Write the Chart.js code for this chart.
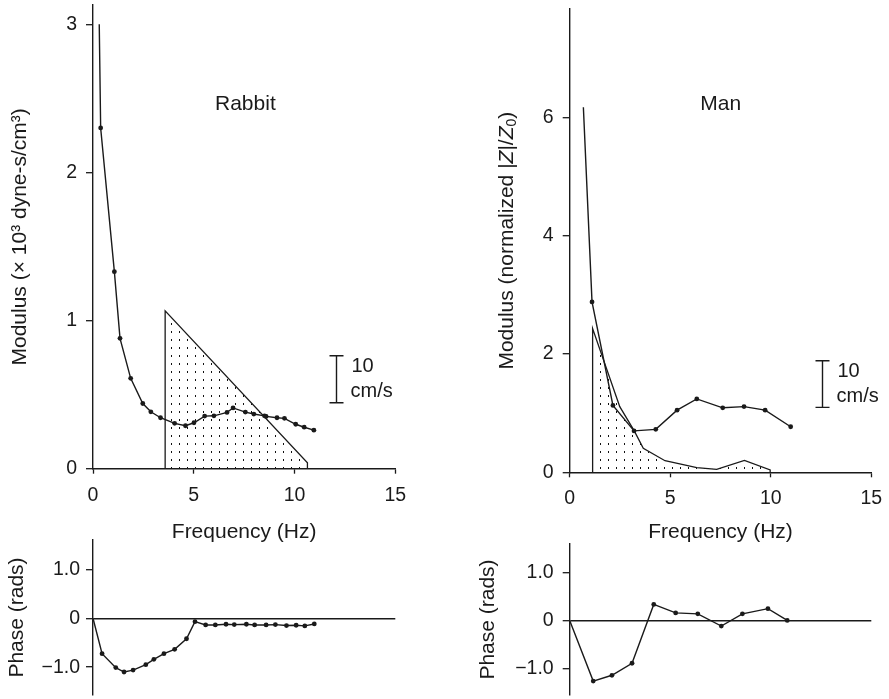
<!DOCTYPE html>
<html><head><meta charset="utf-8">
<script src="https://cdn.jsdelivr.net/npm/chart.js@4.4.1/dist/chart.umd.min.js"></script>
<style>
html,body{margin:0;padding:0;background:#fff;}
#wrap{position:relative;width:889px;height:699px;overflow:hidden;background:#fff;}
canvas{position:absolute;}
</style></head><body>
<div id="wrap">
<canvas id="c1" width="445" height="545" style="left:0px;top:0px"></canvas>
<canvas id="c2" width="445" height="169" style="left:0px;top:530px"></canvas>
<canvas id="c3" width="444" height="545" style="left:445px;top:0px"></canvas>
<canvas id="c4" width="444" height="169" style="left:445px;top:530px"></canvas>
</div>
<script>
// ---------- data ----------
const freqTicks = [0, 5, 10, 15];
const rabbitModTicks = [0, 1, 2, 3];
const manModTicks = [0, 2, 4, 6];
const phaseTicks = [-1, 0, 1];
const phaseTickLabels = ['\u22121.0', '0', '1.0'];

const rabbitModFreq = [0.31,0.38,1.06,1.34,1.87,2.47,2.87,3.35,4.05,4.59,5.01,5.54,6.0,6.65,6.95,7.56,7.98,8.51,8.59,9.13,9.5,10.06,10.48,10.96];
const rabbitModulus = [3.0,2.30,1.33,0.88,0.61,0.44,0.384,0.344,0.306,0.29,0.31,0.355,0.357,0.38,0.41,0.382,0.369,0.357,0.353,0.344,0.34,0.30,0.28,0.26];

const rabbitFlowFreq = [3.58,3.58,10.64,10.64];
const rabbitFlow = [0,1.065,0.04,0];

const rabbitPhaseFreq = [0,0.45,1.13,1.54,1.99,2.62,3.02,3.52,4.05,4.64,5.06,5.59,6.07,6.6,7.01,7.61,8.02,8.59,9.05,9.6,10.08,10.51,10.98];
const rabbitPhase = [0,-0.725,-1.01,-1.10,-1.06,-0.95,-0.84,-0.725,-0.635,-0.42,-0.07,-0.137,-0.137,-0.123,-0.13,-0.123,-0.137,-0.137,-0.13,-0.15,-0.143,-0.157,-0.117];

const manModFreq = [0.68,1.11,2.15,3.2,4.28,5.34,6.32,7.61,8.67,9.72,10.99];
const manModulus = [6.17,2.88,1.13,0.70,0.726,1.05,1.24,1.09,1.11,1.05,0.77];

const manFlowFreq = [1.14,1.14,2.49,3.21,3.66,4.74,6.32,7.31,8.69,9.97,9.97];
const manFlow = [0,2.43,1.11,0.70,0.405,0.196,0.078,0.05,0.20,0.04,0];

const manPhaseFreq = [0,1.17,2.1,3.1,4.18,5.27,6.37,7.54,8.59,9.86,10.82];
const manPhase = [0,-1.26,-1.14,-0.89,0.333,0.157,0.137,-0.116,0.137,0.245,0];

// ---------- helpers ----------
const FONT = "'Liberation Sans', Arial, Helvetica, sans-serif";
const INK = '#1a1a1a';
const pts = (xs, ys) => xs.map((x, i) => ({x, y: ys[i]}));

function stipple() {
  const c = document.createElement('canvas');
  c.width = 8; c.height = 8;
  const g = c.getContext('2d');
  g.fillStyle = '#111';
  g.fillRect(3, 3, 1, 2);
  return g.createPattern(c, 'repeat');
}

const lineStyle = {
  borderColor: INK, borderWidth: 1.4, tension: 0, clip: false,
  pointRadius: c => c.dataIndex === 0 ? 0 : 2.4,
  pointBackgroundColor: INK, pointBorderWidth: 0, fill: false
};
const flowStyle = () => ({
  borderColor: INK, borderWidth: 1.3, tension: 0, clip: false,
  pointRadius: 0, fill: 'origin', backgroundColor: stipple()
});

const annotPlugin = {
  id: 'annot',
  afterDatasetsDraw(chart, args, o) {
    const {ctx} = chart;
    const xs = chart.scales.x, ys = chart.scales.y;
    ctx.save();
    ctx.fillStyle = INK; ctx.strokeStyle = INK;
    if (o.label) {
      ctx.font = `21px ${FONT}`;
      ctx.textAlign = 'center'; ctx.textBaseline = 'middle';
      ctx.fillText(o.label.text, xs.getPixelForValue(o.label.x), ys.getPixelForValue(o.label.y));
    }
    if (o.bar) {
      const bx = Math.round(xs.getPixelForValue(o.bar.x)) + 0.5;
      const y1 = ys.getPixelForValue(o.bar.y0), y2 = ys.getPixelForValue(o.bar.y1);
      ctx.lineWidth = 1.4;
      ctx.beginPath();
      ctx.moveTo(bx, y1); ctx.lineTo(bx, y2);
      ctx.moveTo(bx - 7, y1); ctx.lineTo(bx + 7, y1);
      ctx.moveTo(bx - 7, y2); ctx.lineTo(bx + 7, y2);
      ctx.stroke();
      ctx.font = `20px ${FONT}`;
      ctx.textAlign = 'left'; ctx.textBaseline = 'middle';
      const ym = (y1 + y2) / 2;
      ctx.fillText(o.bar.t1, bx + 15, ym - 13);
      ctx.fillText(o.bar.t2, bx + 14, ym + 12);
    }
    if (o.rich) {
      const ca = chart.chartArea;
      ctx.translate(o.rich.x, (ca.top + ca.bottom) / 2);
      ctx.rotate(-Math.PI / 2);
      const parts = o.rich.parts.map(p => ({...p}));
      let total = 0;
      parts.forEach(p => { ctx.font = p.font; p.w = ctx.measureText(p.t).width; total += p.w; });
      let xx = -total / 2;
      ctx.textAlign = 'left'; ctx.textBaseline = 'middle';
      parts.forEach(p => { ctx.font = p.font; ctx.fillText(p.t, xx, p.dy || 0); xx += p.w; });
    }
    ctx.restore();
  }
};

function makeOptions(c) {
  const yTickVals = c.yTicks;
  return {
    responsive: false, animation: false, events: [],
    layout: {padding: c.padding},
    plugins: {legend: {display: false}, tooltip: {enabled: false}, annot: c.annot || {}},
    scales: {
      x: {
        type: 'linear', min: 0, max: 15, display: c.xDisplay,
        afterBuildTicks: s => { s.ticks = freqTicks.map(v => ({value: v})); },
        afterFit: s => { if (c.xHeight) s.height = c.xHeight; s.paddingLeft = 0; s.paddingRight = 0; },
        grid: {drawOnChartArea: false, drawTicks: true, tickLength: 5, tickColor: INK, tickWidth: 1.3},
        border: {display: true, color: INK, width: 1.4},
        ticks: {color: INK, font: {family: FONT, size: 19.5}, padding: 10, maxRotation: 0, autoSkip: false},
        title: {display: !!c.xTitle, text: c.xTitle || '', color: INK, font: {family: FONT, size: 21}, padding: {top: 0, bottom: 0}}
      },
      y: {
        type: 'linear', min: c.yMin, max: c.yMax,
        afterBuildTicks: s => { s.ticks = yTickVals.map(v => ({value: v})); },
        afterFit: s => { s.width = c.yWidth; s.paddingTop = 0; s.paddingBottom = 0; },
        grid: {
          drawOnChartArea: !!c.zeroLine, drawTicks: true, tickLength: 7, tickColor: INK, tickWidth: 1.3,
          color: ctx => (c.zeroLine && ctx.tick && ctx.tick.value === 0) ? INK : 'rgba(0,0,0,0)',
          lineWidth: 1.4
        },
        border: {display: true, color: INK, width: 1.4},
        ticks: {color: INK, font: {family: FONT, size: 19.5}, padding: c.yTickPad, autoSkip: false,
                callback: c.yLabel},
        title: {display: !!c.yTitle, text: c.yTitle || '', color: INK, font: {family: FONT, size: 21}, padding: {top: c.yTitlePad, bottom: 0}}
      }
    }
  };
}

Chart.register(annotPlugin);

// Rabbit modulus
new Chart(document.getElementById('c1'), {
  type: 'line',
  data: {datasets: [
    {data: pts(rabbitModFreq, rabbitModulus), ...lineStyle},
    {data: pts(rabbitFlowFreq, rabbitFlow), ...flowStyle()}
  ]},
  options: makeOptions({
    padding: {left: 0, top: 5, right: 49.7, bottom: 0},
    xDisplay: true, xHeight: 76.3, xTitle: 'Frequency (Hz)',
    yMin: 0, yMax: 3.13, yTicks: rabbitModTicks, yLabel: v => String(v),
    yWidth: 93, yTickPad: 9, yTitle: 'Modulus (\u00d7 10\u00b3 dyne-s/cm\u00b3)', yTitlePad: 8,
    annot: {
      label: {text: 'Rabbit', x: 7.56, y: 2.46},
      bar: {x: 12.04, y0: 0.762, y1: 0.445, t1: '10', t2: 'cm/s'}
    }
  })
});

// Rabbit phase
new Chart(document.getElementById('c2'), {
  type: 'line',
  data: {datasets: [{data: pts(rabbitPhaseFreq, rabbitPhase), ...lineStyle}]},
  options: makeOptions({
    padding: {left: 0, top: 10, right: 49.7, bottom: 4},
    xDisplay: false,
    yMin: -1.57, yMax: 1.60, yTicks: phaseTicks,
    yLabel: v => phaseTickLabels[phaseTicks.indexOf(v)],
    yWidth: 93, yTickPad: 6, yTitle: 'Phase (rads)', yTitlePad: 5, zeroLine: true
  })
});

// Man modulus
new Chart(document.getElementById('c3'), {
  type: 'line',
  data: {datasets: [
    {data: pts(manModFreq, manModulus), ...lineStyle},
    {data: pts(manFlowFreq, manFlow), ...flowStyle()}
  ]},
  options: makeOptions({
    padding: {left: 0, top: 9, right: 17.7, bottom: 0},
    xDisplay: true, xHeight: 72.7, xTitle: 'Frequency (Hz)',
    yMin: 0, yMax: 7.83, yTicks: manModTicks, yLabel: v => String(v),
    yWidth: 124.7, yTickPad: 9,
    annot: {
      label: {text: 'Man', x: 7.51, y: 6.22},
      bar: {x: 12.54, y0: 1.885, y1: 1.098, t1: '10', t2: 'cm/s'},
      rich: {x: 62, parts: [
        {t: 'Modulus (normalized |', font: `21px ${FONT}`},
        {t: 'Z', font: `italic 21px ${FONT}`},
        {t: '|/', font: `21px ${FONT}`},
        {t: 'Z', font: `italic 21px ${FONT}`},
        {t: '0', font: `14px ${FONT}`, dy: 5},
        {t: ')', font: `21px ${FONT}`}
      ]}
    }
  })
});

// Man phase
new Chart(document.getElementById('c4'), {
  type: 'line',
  data: {datasets: [{data: pts(manPhaseFreq, manPhase), ...lineStyle}]},
  options: makeOptions({
    padding: {left: 0, top: 14, right: 17.7, bottom: 1},
    xDisplay: false,
    yMin: -1.55, yMax: 1.59, yTicks: phaseTicks,
    yLabel: v => phaseTickLabels[phaseTicks.indexOf(v)],
    yWidth: 124.7, yTickPad: 9, yTitle: 'Phase (rads)', yTitlePad: 31, zeroLine: true
  })
});
</script>
</body></html>
